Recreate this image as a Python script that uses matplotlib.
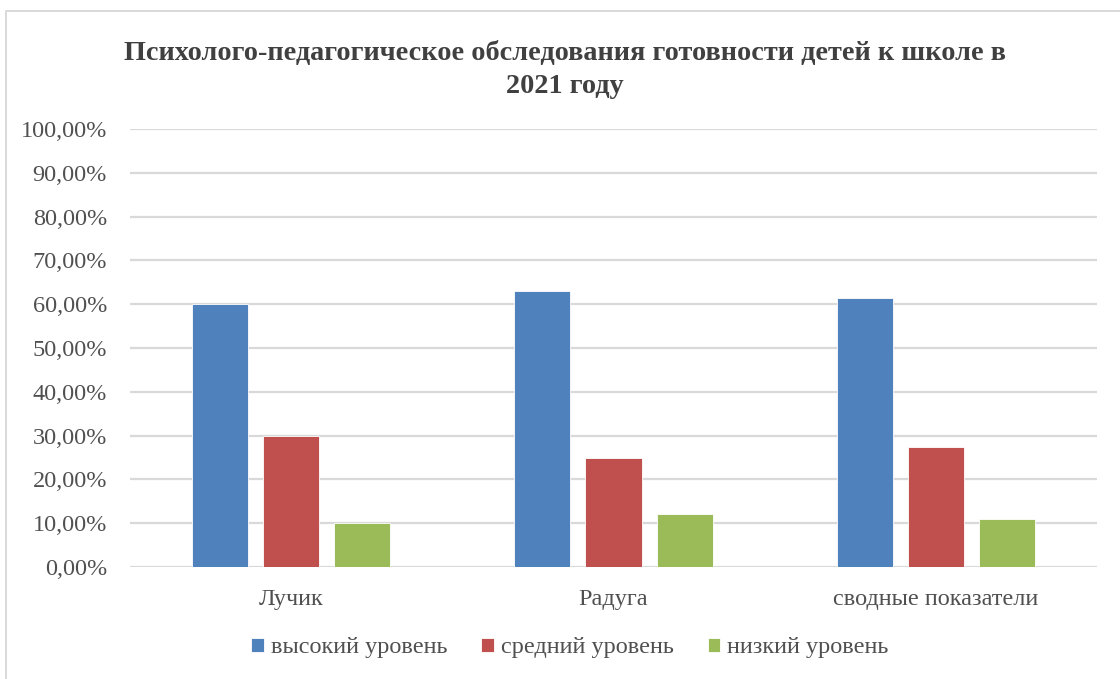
import matplotlib
matplotlib.use("Agg")
import matplotlib.pyplot as plt
from matplotlib.lines import Line2D
from matplotlib.ticker import FuncFormatter
import numpy as np

categories = ["Лучик", "Радуга", "сводные показатели"]
series_names = ["высокий уровень", "средний уровень", "низкий уровень"]
high = [60.0, 63.0, 61.5]
mid = [30.0, 25.0, 27.5]
low = [10.0, 12.0, 11.0]
colors = ["#4F81BD", "#C0504D", "#9BBB59"]
yticks = list(range(0, 101, 10))
title = "Психолого-педагогическое обследования готовности детей к школе в\n2021 году"

plt.rcParams['font.family'] = ['Liberation Serif', 'DejaVu Serif']
W, H = 1120, 679
fig = plt.figure(figsize=(W / 100, H / 100), dpi=100)
ax = fig.add_axes([130 / W, 1 - 567 / H, (1097 - 130) / W, (567 - 129) / H])

x = np.arange(len(categories))
bw = 0.174
pitch = 0.221
for i, (vals, name, c) in enumerate(zip([high, mid, low], series_names, colors)):
    ax.bar(x + (i - 1) * pitch, vals, width=bw, color=c, label=name,
           edgecolor="white", linewidth=0.6, zorder=3)

ax.set_xlim(-0.5, len(categories) - 0.5)
ax.set_ylim(0, 100)
ax.set_yticks(yticks)
ax.yaxis.set_major_formatter(FuncFormatter(lambda v, p: f"{v:.2f}%".replace(".", ",")))
ax.set_xticks(x)
ax.set_xticklabels(categories)
ax.tick_params(axis='both', length=0, labelsize=17.5, colors="#505050")
ax.tick_params(axis='y', pad=16.5)
ax.tick_params(axis='x', pad=16)
ax.grid(axis='y', color="#D9D9D9", linewidth=1.6, zorder=0)
for s in ax.spines.values():
    s.set_visible(False)

fig.text(565 / W, 1 - 70 / H, title, ha='center', va='center', fontsize=20.3,
         fontweight='bold', color="#404040", linespacing=1.38)

handles, labels = ax.get_legend_handles_labels()
leg = fig.legend(handles, labels, loc='center', bbox_to_anchor=(570 / W, 1 - 648 / H),
                 ncol=3, frameon=False, fontsize=17.5, handlelength=0.5, handleheight=0.5,
                 handletextpad=0.3, columnspacing=1.4, labelcolor="#505050")

# chart-area border (only left and top edges are visible in the reference)
fig.lines.append(Line2D([5.5 / W, 5.5 / W, 1.0], [0.0, 1 - 11 / H, 1 - 11 / H],
                        transform=fig.transFigure, color="#D9D9D9", linewidth=1.4))

fig.savefig("out.png", dpi=100, facecolor="white")
